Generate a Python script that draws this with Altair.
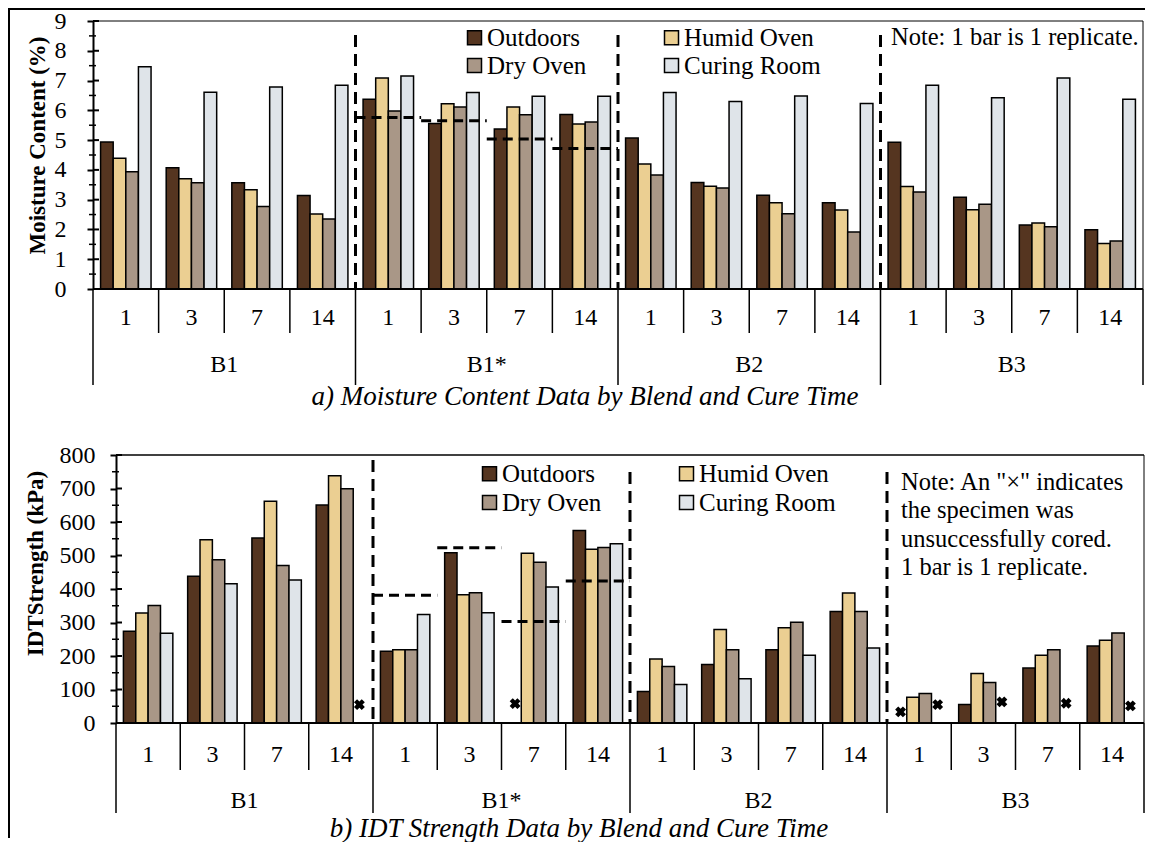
import altair as alt
import pandas as pd

# ---------------- data ----------------
blends = ["B1", "B1*", "B2", "B3"]
days = ["1", "3", "7", "14"]
conditions = ["Outdoors", "Humid Oven", "Dry Oven", "Curing Room"]
bar_colors = ["#553520", "#ebcf92", "#a99787", "#dfe4e9"]

# Moisture content (%)  order: B1 1,3,7,14 | B1* | B2 | B3
mc_outdoors = [4.94, 4.07, 3.57, 3.14, 6.37, 5.56, 5.37, 5.86, 5.07, 3.58, 3.15, 2.90, 4.93, 3.08, 2.15, 1.99]
mc_humid = [4.39, 3.70, 3.33, 2.52, 7.09, 6.22, 6.11, 5.54, 4.20, 3.45, 2.90, 2.65, 3.44, 2.66, 2.22, 1.53]
mc_dry = [3.94, 3.57, 2.77, 2.35, 5.98, 6.11, 5.85, 5.61, 3.83, 3.39, 2.53, 1.91, 3.26, 2.85, 2.09, 1.61]
mc_curing = [7.46, 6.61, 6.78, 6.84, 7.15, 6.60, 6.47, 6.47, 6.60, 6.30, 6.48, 6.23, 6.84, 6.42, 7.09, 6.37]
mc_b1star_ref = [5.76, 5.65, 5.04, 4.72]

# IDT strength (kPa)
idt_outdoors = [274, 438, 552, 651, 214, 508, None, 575, 94, 175, 219, 333, None, 55, 164, 230]
idt_humid = [328, 547, 662, 738, 219, 383, 507, 519, 191, 279, 284, 388, 77, 148, 202, 247]
idt_dry = [351, 487, 470, 699, 219, 389, 480, 524, 169, 219, 301, 333, 88, 121, 219, 269]
idt_curing = [268, 416, 427, None, 324, 329, 406, 535, 115, 132, 202, 224, None, None, None, None]
idt_b1star_ref = [381, 523, 303, 424]

# unsuccessfully cored specimens ("x" markers)
miss_blend = ["B1", "B1*", "B3", "B3", "B3", "B3", "B3"]
miss_day = ["14", "7", "1", "1", "3", "7", "14"]
miss_cond = ["Curing Room", "Outdoors", "Outdoors", "Curing Room", "Curing Room", "Curing Room", "Curing Room"]
miss_mark = [55, 58, 33, 55, 63, 59, 51]

mc_ticks = list(range(0, 10))
mc_minor = [v + 0.5 for v in range(0, 9)]
idt_ticks = list(range(0, 801, 100))
idt_minor = list(range(50, 800, 100))

FONT = "Liberation Serif"

# ---------------- helpers ----------------
cats = [f"{b}|{d}" for b in blends for d in days]
cat_day = [d for b in blends for d in days]
one = pd.DataFrame({"k": [0]})


def long_df(series_lists):
    rows = []
    for cond, vals in zip(conditions, series_lists):
        for cat, v in zip(cats, vals):
            if v is not None:
                rows.append({"cat": cat, "cond": cond, "value": v})
    return pd.DataFrame(rows)


def panel(p):
    W, H = p["W"], p["H"]
    x0, x1 = p["range"]          # pixel extent of the category axis
    ax = p["axis_x"]             # where the value axis sits
    xscale = alt.Scale(domain=cats, paddingInner=0, paddingOuter=0, range=[x0, x1])

    def X(**kw):
        return alt.X("cat:N", scale=xscale, axis=None, **kw)

    xoff = alt.XOffset("cond:N", scale=alt.Scale(domain=conditions, paddingInner=0, paddingOuter=0.6))
    yscale = alt.Scale(domain=[0, p["ymax"]], nice=False, zero=True)

    yaxis = alt.Axis(
        values=p["ticks"], title=p["ytitle"], titleFont=FONT, titleFontSize=23,
        titleFontWeight="bold", titleColor="black", titleX=p["title_x"], titleY=p["title_y"],
        titleAngle=270, titleAlign="center", titleBaseline="middle",
        labelFont=FONT, labelFontSize=24, labelColor="black", labelPadding=p["label_pad"],
        tickSize=6, tickWidth=2, tickColor="black", domainColor="black", domainWidth=2,
        grid=False, offset=-ax,
    )

    def Yv():
        return alt.Y("value:Q", scale=yscale, axis=yaxis)

    legend = alt.Legend(
        orient="none", legendX=p["leg_x"], legendY=p["leg_y"], columns=2, direction="horizontal",
        title=None, symbolType="square", symbolSize=196, symbolStrokeColor="black",
        symbolStrokeWidth=1.5, symbolOpacity=1, labelFont=FONT, labelFontSize=25,
        labelColor="black", labelOffset=0, columnPadding=p["col_pad"], rowPadding=p["row_pad"],
    )

    layers = []
    # bars
    layers.append(
        alt.Chart(p["df"]).mark_bar(stroke="black", strokeWidth=1.5).encode(
            x=X(), xOffset=xoff, y=Yv(),
            color=alt.Color("cond:N", scale=alt.Scale(domain=conditions, range=bar_colors), legend=legend),
        )
    )
    # missing-specimen markers
    if p.get("miss") is not None:
        layers.append(
            alt.Chart(p["miss"]).mark_point(shape="cross", angle=45, filled=True, size=120,
                                            color="black", opacity=1).encode(
                x=X(), xOffset=xoff, y=Yv())
        )
    # B1* reference dashed lines
    ref_df = pd.DataFrame({"cat": cats[4:8], "value": p["ref"]})
    layers.append(
        alt.Chart(ref_df).mark_rule(color="black", strokeWidth=3, strokeDash=[10, 6]).encode(
            x=X(bandPosition=0), x2=alt.X2(field="cat", bandPosition=1), y=Yv())
    )
    # vertical dashed blend separators
    layers.append(
        alt.Chart(pd.DataFrame({"cat": [cats[4]]})).mark_rule(color="black", strokeWidth=3, strokeDash=[12, 7]).encode(
            x=X(bandPosition=0), y=alt.value(p["dash_first"]), y2=alt.value(H))
    )
    layers.append(
        alt.Chart(pd.DataFrame({"cat": [cats[8], cats[12]]})).mark_rule(color="black", strokeWidth=3, strokeDash=[12, 7]).encode(
            x=X(bandPosition=0), y=alt.value(p["dash_rest"]), y2=alt.value(H))
    )
    # plot box: baseline, top and right edges
    layers.append(
        alt.Chart(one).mark_rule(color="black", strokeWidth=2).encode(
            x=alt.value(ax), x2=alt.value(x1), y=alt.value(H))
    )
    layers.append(
        alt.Chart(one).mark_rule(color="black", strokeWidth=p["box_w"]).encode(
            x=alt.value(ax), x2=alt.value(x1), y=alt.value(0))
    )
    layers.append(
        alt.Chart(one).mark_rule(color="black", strokeWidth=1).encode(
            x=alt.value(x1), y=alt.value(0), y2=alt.value(H))
    )
    # minor ticks and inner halves of major ticks
    layers.append(
        alt.Chart(pd.DataFrame({"value": p["minor"]})).mark_rule(color="black", strokeWidth=1.5).encode(
            y=Yv(), x=alt.value(ax - 4), x2=alt.value(ax + 3))
    )
    layers.append(
        alt.Chart(pd.DataFrame({"value": p["ticks"]})).mark_rule(color="black", strokeWidth=2).encode(
            y=Yv(), x=alt.value(ax), x2=alt.value(ax + 6))
    )
    # category separators below the axis
    short_df = pd.DataFrame({"cat": [c for i, c in enumerate(cats) if i % 4 != 0]})
    long_sep = pd.DataFrame({"cat": [c for i, c in enumerate(cats) if i % 4 == 0]})
    layers.append(
        alt.Chart(short_df).mark_rule(color="black", strokeWidth=1.5).encode(
            x=X(bandPosition=0), y=alt.value(H), y2=alt.value(H + p["short"]))
    )
    layers.append(
        alt.Chart(long_sep).mark_rule(color="black", strokeWidth=1.5).encode(
            x=X(bandPosition=0), y=alt.value(H), y2=alt.value(H + p["long"]))
    )
    layers.append(
        alt.Chart(pd.DataFrame({"cat": [cats[-1]]})).mark_rule(color="black", strokeWidth=1.5).encode(
            x=X(bandPosition=1), y=alt.value(H), y2=alt.value(H + p["long"]))
    )
    # day labels
    layers.append(
        alt.Chart(pd.DataFrame({"cat": cats, "day": cat_day})).mark_text(
            font=FONT, fontSize=24, color="black", baseline="middle").encode(
            x=X(), y=alt.value(H + p["day_dy"]), text="day:N")
    )
    # blend labels
    layers.append(
        alt.Chart(pd.DataFrame({"cat": [f"{b}|7" for b in blends], "blend": blends})).mark_text(
            font=FONT, fontSize=24, color="black", baseline="middle").encode(
            x=X(bandPosition=0), y=alt.value(H + p["blend_dy"]), text="blend:N")
    )
    # caption
    layers.append(
        alt.Chart(one).mark_text(font=FONT, fontSize=27, fontStyle="italic", color="black",
                                 baseline="middle").encode(
            x=alt.value(p["cap_x"]), y=alt.value(H + p["cap_dy"]), text=alt.value(p["caption"]))
    )
    # note
    layers.append(
        alt.Chart(one).mark_text(font=FONT, fontSize=24.5, color="black", align="left",
                                 baseline="middle", lineBreak="\n", lineHeight=p["note_lh"]).encode(
            x=alt.value(p["note_x"]), y=alt.value(p["note_y"]), text=alt.value(p["note"]))
    )
    # outer frame: filled rect fixes the panel bounds, a rule draws the visible line
    fx = p["frame_x"]
    layers.append(
        alt.Chart(one).mark_rect(color="black", opacity=1).encode(
            x=alt.value(fx), x2=alt.value(fx + 2), y=alt.value(p["frame_y1"]), y2=alt.value(p["frame_y2"]))
    )
    layers.append(
        alt.Chart(one).mark_rule(color="black", strokeWidth=2).encode(
            x=alt.value(fx + 1), y=alt.value(p["frame_y1"] + 2), y2=alt.value(p["frame_y2"] - 2))
    )
    if p.get("frame_top") is not None:
        ft = p["frame_top"]
        layers.append(
            alt.Chart(one).mark_rect(color="black", opacity=1).encode(
                x=alt.value(fx), x2=alt.value(p["frame_right"]), y=alt.value(ft), y2=alt.value(ft + 2))
        )
    return alt.layer(*layers).properties(width=W, height=H)


# plot origin of both panels is at page x = 116
top = panel(dict(
    W=1028, H=268, range=[-23, 1027], axis_x=-23, box_w=1,
    df=long_df([mc_outdoors, mc_humid, mc_dry, mc_curing]), miss=None,
    ref=mc_b1star_ref, ymax=9, ticks=mc_ticks, minor=mc_minor,
    ytitle="Moisture Content (%)", title_x=-56, title_y=124, label_pad=21,
    leg_x=346, leg_y=4, col_pad=72, row_pad=2,
    dash_first=14, dash_rest=14, short=44, long=96, day_dy=29, blend_dy=76,
    caption="a) Moisture Content Data by Blend and Cure Time", cap_x=469, cap_dy=108,
    note="Note: 1 bar is 1 replicate.", note_x=775, note_y=17, note_lh=28,
    frame_x=-108, frame_y1=-13, frame_y2=414, frame_top=-13, frame_right=1029,
))

miss_df = pd.DataFrame({
    "cat": [f"{b}|{d}" for b, d in zip(miss_blend, miss_day)],
    "cond": miss_cond, "value": miss_mark,
})

bottom = panel(dict(
    W=1028, H=268, range=[0, 1028], axis_x=0, box_w=1.5,
    df=long_df([idt_outdoors, idt_humid, idt_dry, idt_curing]), miss=miss_df,
    ref=idt_b1star_ref, ymax=800, ticks=idt_ticks, minor=idt_minor,
    ytitle="IDTStrength (kPa)", title_x=-81, title_y=108, label_pad=15,
    leg_x=361, leg_y=6, col_pad=72, row_pad=3,
    dash_first=5, dash_rest=17, short=47, long=90, day_dy=32, blend_dy=78,
    caption="b) IDT Strength Data by Blend and Cure Time", cap_x=463, cap_dy=106,
    note='Note: An "×" indicates\nthe specimen was\nunsuccessfully cored.\n1 bar is 1 replicate.',
    note_x=785, note_y=28, note_lh=28.3,
    frame_x=-108, frame_y1=-20, frame_y2=383, frame_top=None,
))

chart = (
    alt.vconcat(top, bottom, spacing=0)
    .resolve_scale(color="independent", x="independent", y="independent", xOffset="independent")
    .resolve_legend(color="independent")
    .properties(padding={"left": 0, "top": 0, "right": 0, "bottom": 0})
    .configure(font=FONT)
    .configure_view(stroke=None)
)

chart.save("out.html", embed_options={"renderer": "svg", "actions": False})
